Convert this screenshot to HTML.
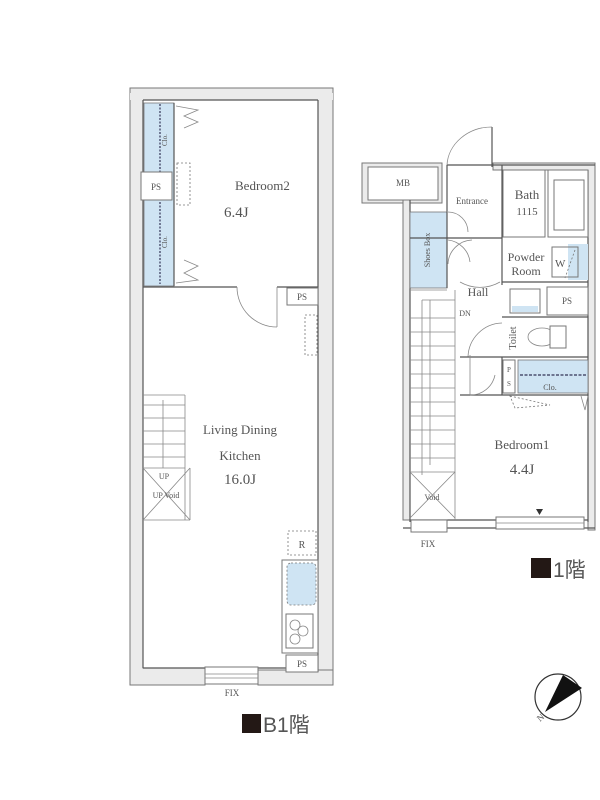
<!DOCTYPE html>
<html><head><meta charset="utf-8"><style>
html,body{margin:0;padding:0;background:#fff;width:600px;height:800px;overflow:hidden}
svg{display:block}
text{font-family:"Liberation Serif",serif;fill:#555}
.w{fill:#ebebeb;stroke:#777;stroke-width:1}
.l{stroke:#555;stroke-width:1.2;fill:none}
.t{stroke:#888;stroke-width:0.8;fill:none}
.d{stroke:#777;stroke-width:0.8;fill:none;stroke-dasharray:2 2}
.b{fill:#cfe4f3;stroke:#777;stroke-width:0.8}
.bx{fill:#fff;stroke:#777;stroke-width:1}
</style></head><body>
<svg width="600" height="800" viewBox="0 0 600 800" xmlns="http://www.w3.org/2000/svg">
<!-- ===== B1 ===== -->
<path class="w" d="M130 88 H333 V675 H318 V100 H143 V668 H205 V685 H130 Z" style="fill-rule:evenodd"/>
<rect class="w" x="258" y="670" width="75" height="15"/>
<rect class="w" x="130" y="93" width="203" height="7" style="stroke:none"/>
<line class="l" x1="143" y1="100" x2="318" y2="100"/>
<line class="l" x1="143" y1="100" x2="143" y2="668"/>
<line class="l" x1="318" y1="100" x2="318" y2="672"/>
<line class="l" x1="143" y1="668" x2="318" y2="668"/>
<!-- closet -->
<rect class="b" x="144" y="103" width="30" height="183"/>
<line x1="160" y1="104" x2="160" y2="284" stroke="#335" stroke-width="1.2" stroke-dasharray="2 1.5"/>
<line class="l" x1="174" y1="103" x2="174" y2="286"/>
<rect class="bx" x="141" y="172" width="31" height="28"/>
<text x="156" y="190" font-size="9" text-anchor="middle">PS</text>
<text x="167" y="140" font-size="7" transform="rotate(-90 167 140)" text-anchor="middle">Clo.</text>
<text x="167" y="242" font-size="7" transform="rotate(-90 167 242)" text-anchor="middle">Clo.</text>
<path class="t" d="M176 106 L198 110 L184 116 L198 122 L184 128"/>
<path class="t" d="M176 283 L198 280 L184 273 L198 266 L184 260"/>
<rect class="d" x="177" y="163" width="13" height="42"/>
<text x="235" y="190" font-size="13">Bedroom2</text>
<text x="224" y="217" font-size="15" fill="#444">6.4J</text>
<!-- partition -->
<line class="l" x1="143" y1="287" x2="237" y2="287" stroke-width="2"/>
<line class="l" x1="277" y1="287" x2="318" y2="287" stroke-width="2"/>
<line class="t" x1="277" y1="287" x2="277" y2="327"/>
<path class="t" d="M237 287 A40 40 0 0 0 277 327"/>
<rect class="bx" x="287" y="288" width="31" height="17"/>
<text x="302" y="300" font-size="9" text-anchor="middle">PS</text>
<rect class="d" x="305" y="315" width="12" height="40"/>
<!-- stairs B1 -->
<g class="t">
<line x1="143" y1="395" x2="185" y2="395"/>
<line x1="185" y1="395" x2="185" y2="520"/>
<line x1="143" y1="405" x2="185" y2="405"/><line x1="143" y1="418" x2="185" y2="418"/>
<line x1="143" y1="431" x2="185" y2="431"/><line x1="143" y1="444" x2="185" y2="444"/>
<line x1="143" y1="457" x2="185" y2="457"/><line x1="143" y1="468" x2="185" y2="468"/>
<line x1="163" y1="468" x2="163" y2="400"/>
<line x1="143" y1="520" x2="190" y2="520"/><line x1="190" y1="468" x2="190" y2="520"/>
<line x1="143" y1="468" x2="190" y2="520"/><line x1="190" y1="468" x2="143" y2="520"/>
</g>
<text x="164" y="479" font-size="8" text-anchor="middle">UP</text>
<text x="166" y="498" font-size="8" text-anchor="middle">UP Void</text>
<text x="240" y="434" font-size="13" text-anchor="middle">Living Dining</text>
<text x="240" y="460" font-size="13" text-anchor="middle">Kitchen</text>
<text x="240" y="484" font-size="15" text-anchor="middle" fill="#444">16.0J</text>
<!-- kitchen -->
<rect class="d" x="288" y="531" width="28" height="24"/>
<text x="302" y="548" font-size="10" text-anchor="middle">R</text>
<rect class="bx" x="282" y="560" width="36" height="93"/>
<rect x="287" y="563" width="29" height="42" rx="4" fill="#cfe4f3" stroke="#777" stroke-dasharray="2 2" stroke-width="0.8"/>
<rect class="bx" x="286" y="614" width="27" height="34"/>
<circle class="t" cx="295" cy="625" r="5"/><circle class="t" cx="303" cy="631" r="5"/><circle class="t" cx="295" cy="639" r="5"/>
<rect class="bx" x="286" y="655" width="32" height="17"/>
<text x="302" y="667" font-size="9" text-anchor="middle">PS</text>
<rect class="bx" x="205" y="667" width="53" height="17"/>
<line class="t" x1="205" y1="674" x2="258" y2="674"/><line class="t" x1="205" y1="678" x2="258" y2="678"/>
<text x="232" y="696" font-size="9" text-anchor="middle">FIX</text>
<rect x="242" y="714" width="19" height="19" fill="#231815"/>
<text x="263" y="732" font-size="21" font-family="'Liberation Sans','Noto Sans CJK JP',sans-serif" fill="#231815" style="font-family:'Liberation Sans','Noto Sans CJK JP',sans-serif">B1階</text>

<!-- ===== 1F ===== -->
<rect class="w" x="362" y="163" width="80" height="40"/>
<rect class="bx" x="368" y="167" width="70" height="33"/>
<text x="403" y="186" font-size="9" text-anchor="middle">MB</text>
<path class="w" d="M403 200 H410 V520 H403 Z"/>
<path class="w" d="M493 163 H595 V530 H588 V170 H493 Z"/>
<line class="l" x1="447" y1="165" x2="595" y2="165"/>
<line class="l" x1="410" y1="200" x2="410" y2="522"/>
<line class="l" x1="588" y1="170" x2="588" y2="522"/>
<line class="l" x1="403" y1="528" x2="595" y2="528"/>
<line class="l" x1="410" y1="520" x2="588" y2="520"/>
<!-- entrance door -->
<line class="l" x1="492" y1="127" x2="492" y2="167"/>
<path class="t" d="M447 165 A45 40 0 0 1 492 127"/>
<line class="l" x1="447" y1="165" x2="447" y2="212"/>
<text x="472" y="204" font-size="9" text-anchor="middle">Entrance</text>
<line class="l" x1="447" y1="238" x2="502" y2="238"/>
<!-- shoes box -->
<rect class="b" x="410" y="212" width="37" height="76"/>
<line class="l" x1="410" y1="238" x2="447" y2="238"/>
<line class="l" x1="447" y1="212" x2="447" y2="288"/>
<text x="430" y="250" font-size="8" transform="rotate(-90 430 250)" text-anchor="middle">Shoes Box</text>
<path class="t" d="M448 212 A20 20 0 0 1 468 232"/>
<path class="t" d="M448 240 A25 25 0 0 1 470 262 M448 264 A25 25 0 0 1 472 240"/>
<path class="t" d="M460 282 A40 40 0 0 0 500 282"/>
<!-- bath -->
<rect class="bx" x="503" y="170" width="42" height="67"/>
<rect class="bx" x="548" y="170" width="40" height="67"/>
<rect class="bx" x="554" y="180" width="30" height="50"/>
<text x="527" y="199" font-size="13" text-anchor="middle">Bath</text>
<text x="527" y="215" font-size="11" text-anchor="middle">1115</text>
<line class="l" x1="502" y1="165" x2="502" y2="285"/>
<!-- powder -->
<text x="526" y="261" font-size="12" text-anchor="middle">Powder</text>
<text x="526" y="275" font-size="12" text-anchor="middle">Room</text>
<rect x="568" y="244" width="20" height="36" fill="#cfe4f3"/>
<rect class="bx" x="552" y="247" width="26" height="30" style="fill:none"/>
<text x="555" y="267" font-size="11">W</text>
<line class="d" x1="575" y1="250" x2="565" y2="278"/>
<line class="l" x1="502" y1="282" x2="588" y2="282"/>
<text x="478" y="296" font-size="12" text-anchor="middle">Hall</text>
<text x="465" y="316" font-size="8" text-anchor="middle">DN</text>
<rect class="bx" x="510" y="289" width="30" height="24"/>
<rect x="512" y="306" width="26" height="6" fill="#cfe4f3"/>
<rect class="bx" x="547" y="287" width="41" height="28"/>
<text x="567" y="304" font-size="9" text-anchor="middle">PS</text>
<line class="l" x1="502" y1="317" x2="588" y2="317"/>
<text x="516" y="338" font-size="10" transform="rotate(-90 516 338)" text-anchor="middle">Toilet</text>
<ellipse class="t" cx="542" cy="337" rx="14" ry="9"/>
<rect class="bx" x="550" y="326" width="16" height="22"/>
<path class="t" d="M468 357 A35 35 0 0 1 502 323"/>
<line class="l" x1="460" y1="357" x2="588" y2="357"/>
<line class="l" x1="502" y1="357" x2="502" y2="395"/>
<rect class="bx" x="503" y="360" width="12" height="33"/>
<text x="509" y="372" font-size="7" text-anchor="middle">P</text>
<text x="509" y="386" font-size="7" text-anchor="middle">S</text>
<rect class="b" x="518" y="360" width="70" height="33"/>
<line x1="520" y1="375" x2="586" y2="375" stroke="#335" stroke-width="1.2" stroke-dasharray="3 1.5"/>
<text x="550" y="390" font-size="8" text-anchor="middle">Clo.</text>
<line class="l" x1="460" y1="395" x2="588" y2="395"/>
<path class="d" d="M510 396 L550 405 L515 408 Z"/>
<path class="t" d="M581 396 L585 410 L588 396"/>
<path class="t" d="M470 355 L470 395 M470 395 A25 25 0 0 0 495 375"/>
<!-- stairs 1F -->
<g class="t">
<line x1="410" y1="290" x2="447" y2="290"/>
<line x1="422" y1="300" x2="455" y2="300"/>
<line x1="455" y1="290" x2="455" y2="520"/>
<line x1="422" y1="300" x2="422" y2="475"/>
<line x1="410" y1="318" x2="455" y2="318"/><line x1="410" y1="332" x2="455" y2="332"/>
<line x1="410" y1="346" x2="455" y2="346"/><line x1="410" y1="360" x2="455" y2="360"/>
<line x1="410" y1="374" x2="455" y2="374"/><line x1="410" y1="388" x2="455" y2="388"/>
<line x1="410" y1="402" x2="455" y2="402"/><line x1="410" y1="416" x2="455" y2="416"/>
<line x1="410" y1="430" x2="455" y2="430"/><line x1="410" y1="444" x2="455" y2="444"/>
<line x1="410" y1="458" x2="455" y2="458"/><line x1="410" y1="472" x2="455" y2="472"/>
<line x1="430" y1="300" x2="430" y2="465"/>
<line x1="410" y1="472" x2="455" y2="518"/><line x1="455" y1="472" x2="410" y2="518"/>
</g>
<text x="432" y="500" font-size="8" text-anchor="middle">Void</text>
<text x="522" y="449" font-size="13" text-anchor="middle">Bedroom1</text>
<text x="522" y="474" font-size="15" text-anchor="middle" fill="#444">4.4J</text>
<rect class="bx" x="496" y="517" width="88" height="12"/>
<line class="t" x1="496" y1="523" x2="584" y2="523"/>
<path d="M536 509 L543 509 L539.5 515 Z" fill="#333"/>
<rect class="bx" x="411" y="520" width="36" height="12"/>
<text x="428" y="547" font-size="9" text-anchor="middle">FIX</text>
<rect x="531" y="558" width="20" height="20" fill="#231815"/>
<text x="553" y="577" font-size="21" fill="#231815" style="font-family:'Liberation Sans','Noto Sans CJK JP',sans-serif">1階</text>
<!-- compass -->
<circle cx="558" cy="697" r="23" fill="none" stroke="#333" stroke-width="1.2"/>
<path d="M545 712 L563 675 L582 688 Z" fill="#111"/>
<text x="540" y="722" font-size="9" fill="#333" transform="rotate(-40 540 722)">N</text>
</svg>
</body></html>
